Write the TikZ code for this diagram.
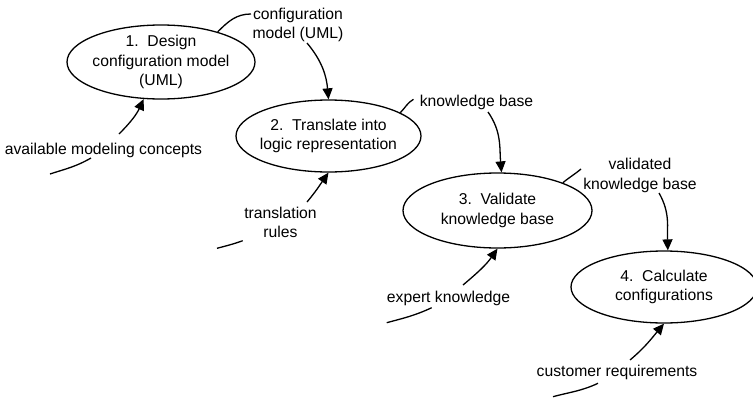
\documentclass[tikz,border=0pt]{standalone}
\usepackage{fontspec}
\setmainfont{Liberation Sans}
\usetikzlibrary{shapes.geometric,arrows.meta}
\begin{document}
\begin{tikzpicture}[x=1pt,y=1pt,
  font=\fontsize{15.7}{19.5}\selectfont,
  proc/.style={draw, ellipse, line width=1.3pt, inner xsep=-20pt, inner ysep=-4pt,
    minimum width=188pt, minimum height=74pt, align=center},
  lbl/.style={align=center, inner sep=0pt, anchor=north},
  flow/.style={line width=1.3pt, -{Triangle[length=11pt,width=10pt]}},
  link/.style={line width=1.3pt}]
\useasboundingbox (0,0) rectangle (753,-399);

% process ellipses
\node[proc] (e1) at (161,-62) {1.\ \ Design\\configuration model\\(UML)};
\node[proc, minimum width=185pt, minimum height=72pt] (e2) at (328.5,-136) {2.\ \ Translate into\\logic representation};
\node[proc, minimum width=189pt, minimum height=75pt] (e3) at (497.5,-210.5) {3.\ \ Validate\\knowledge base};
\node[proc, minimum width=186pt, minimum height=72pt] (e4) at (664,-287) {4.\ \ Calculate\\configurations};

% labels
\node[lbl] (cm)  at (298,-7.5)    {configuration\\model (UML)};
\node[lbl] (amc) at (103.5,-142.5) {available modeling concepts};
\node[lbl] (kb)  at (476.5,-95)   {knowledge base};
\node[lbl] (tr)  at (280.5,-206.5) {translation\\rules};
\node[lbl] (vkb) at (640,-158)    {validated\\knowledge base};
\node[lbl] (ek)  at (448.5,-290.5) {expert knowledge};
\node[lbl] (cr)  at (617,-365)    {customer requirements};

% free ends
\coordinate (d1) at (50,-174);
\coordinate (d2) at (217,-248.3);
\coordinate (d3) at (386.7,-322.7);
\coordinate (d4) at (553,-396.7);

% outputs
\draw[link] (e1.28) to[out=45,in=180] ([shift={(-47,-6.5)}]cm.north);
\draw[flow] ([shift={(9,-35.5)}]cm.north) to[out=-50,in=95] (e2.north);

\draw[link] (e2.18) to[out=45,in=-150] ([shift={(-63,-4.3)}]kb.north);
\draw[flow] ([shift={(11.5,-17)}]kb.north) to[out=-55,in=95] (e3.84);

\draw[link] (e3.23) to[out=40,in=-140] ([shift={(-59,-11)}]vkb.north);
\draw[flow] ([shift={(19,-35)}]vkb.north) to[out=-60,in=92] (e4.84);

% inputs
\draw[link] (d1) to[out=18,in=-150] ([shift={(-12.5,-15.5)}]amc.north);
\draw[flow] ([shift={(15.5,8.5)}]amc.north) to[out=45,in=-115] (e1.-115);

\draw[link] (d2) to[out=15,in=-160] ([shift={(-37.8,-34.2)}]tr.north);
\draw[flow] ([shift={(26.5,4.5)}]tr.north) to[out=50,in=-125] (e2.south);

\draw[link] (d3) to[out=15,in=-155] ([shift={(-16.8,-17.2)}]ek.north);
\draw[flow] ([shift={(14.5,5.5)}]ek.north) to[out=40,in=-125] (e3.south);

\draw[link] (d4) to[out=15,in=-155] ([shift={(-19,-18.3)}]cr.north);
\draw[flow] ([shift={(13,5)}]cr.north) to[out=40,in=-130] (e4.south);
\end{tikzpicture}
\end{document}
